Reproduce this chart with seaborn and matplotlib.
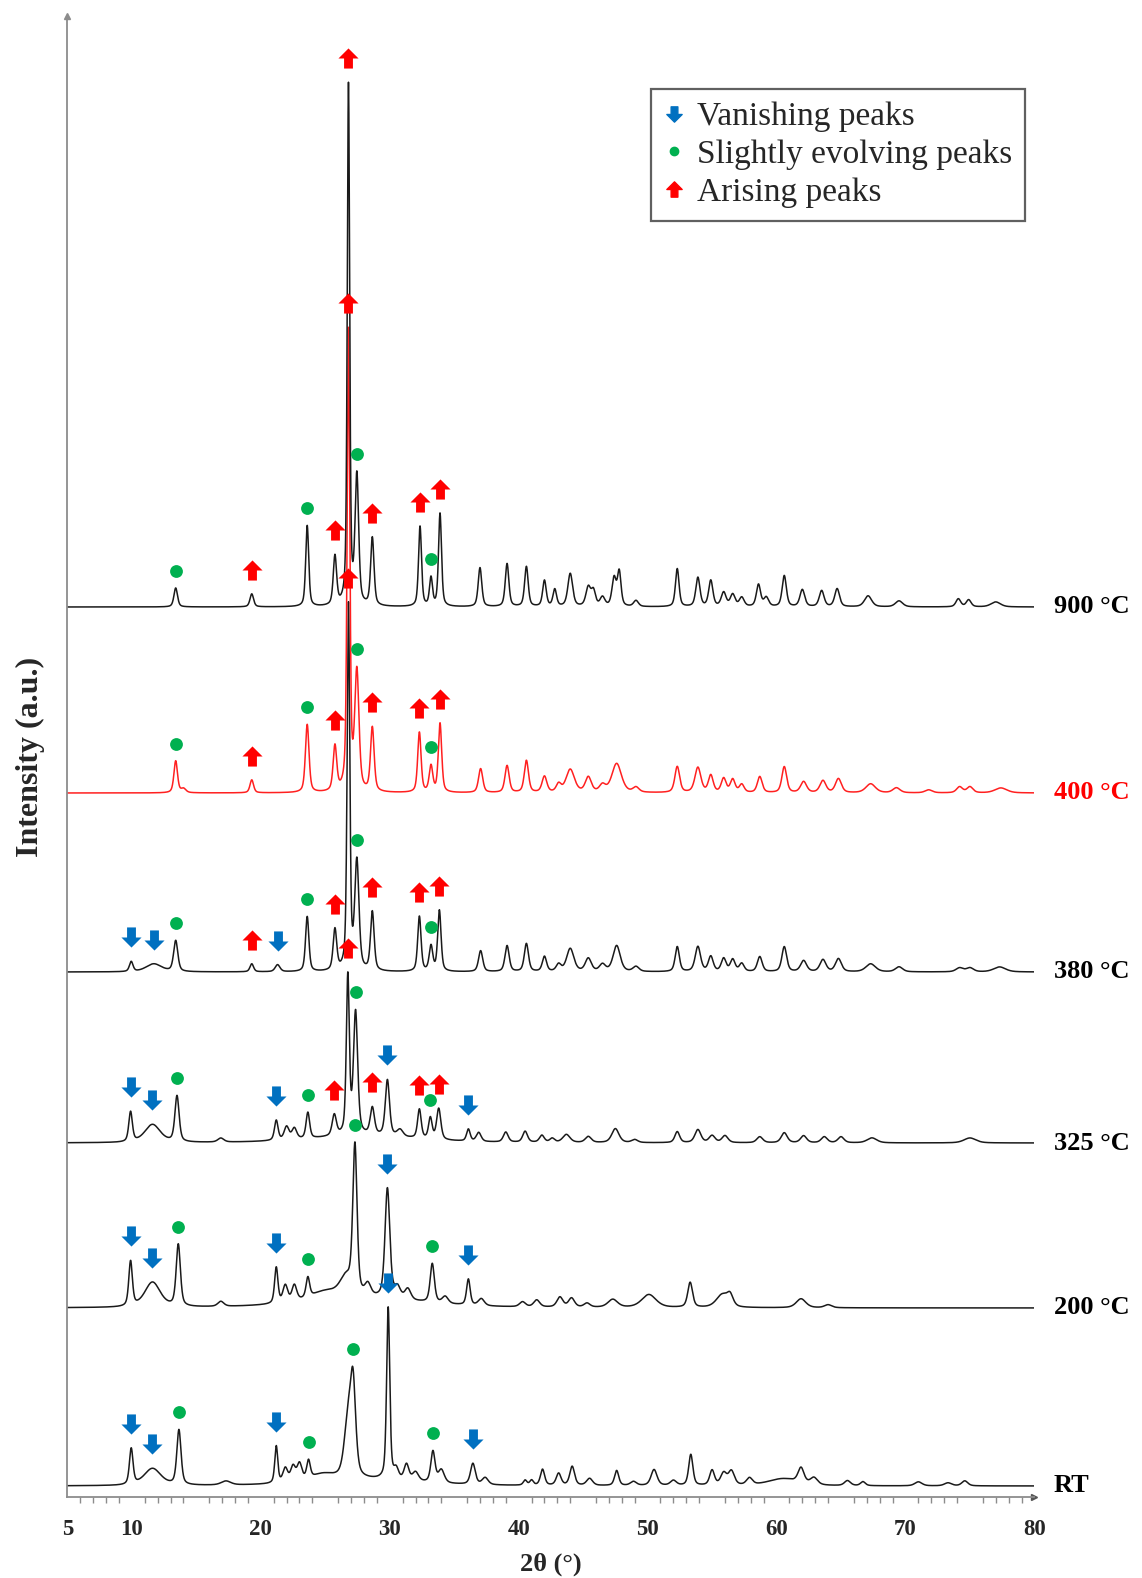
import numpy as np
import pandas as pd
import matplotlib
matplotlib.use("Agg")
import matplotlib.pyplot as plt
from matplotlib.path import Path
from matplotlib.lines import Line2D
import seaborn as sns

# ---- peak lists (2theta, height above baseline, FWHM) ----
samples = ["RT", "200 °C", "325 °C", "380 °C", "400 °C", "900 °C"]
baselines = [11, 189, 354, 525, 704, 890]

rt_pos = [9.95, 11.6, 13.65, 17.3, 21.2, 21.9, 22.5, 23.0, 23.7, 24.8, 26.75, 27.15, 28.0, 29.88,
          30.5, 31.3, 32.0, 33.35, 34.0, 36.45, 37.4, 40.5, 41.0, 41.85, 43.1, 44.15, 45.5, 47.6,
          48.9, 50.5, 52.0, 53.35, 55.0, 55.9, 56.5, 57.9, 60.5, 61.9, 62.9, 65.5, 66.7, 71.0,
          73.3, 74.6]
rt_hgt = [36, 17, 55, 4, 37, 14, 15, 17, 18, 7, 55, 90, 6, 172,
          10, 16, 9, 31, 13, 21, 7, 5, 5, 16, 12, 19, 7, 15,
          4, 16, 5, 31, 15, 12, 14, 7, 7, 15, 7, 5, 4, 4,
          3, 5]
rt_fwhm = [0.3, 1.4, 0.35, 0.8, 0.25, 0.4, 0.4, 0.4, 0.3, 2.0, 0.6, 0.45, 9.0, 0.26,
           0.4, 0.4, 0.5, 0.35, 0.5, 0.4, 0.5, 0.3, 0.3, 0.35, 0.4, 0.4, 0.5, 0.35,
           0.5, 0.5, 0.5, 0.35, 0.4, 0.5, 0.5, 0.5, 2.5, 0.5, 0.6, 0.5, 0.4, 0.6,
           0.6, 0.5]

t200_pos = [9.9, 11.6, 13.6, 16.9, 21.2, 21.9, 22.6, 23.65, 25.0, 26.6, 27.3, 28.3, 28.0, 29.82,
            30.6, 31.4, 33.3, 34.3, 36.1, 37.1, 40.3, 41.4, 43.2, 44.1, 45.3, 47.3, 50.1,
            53.3, 55.8, 56.4, 61.9, 64.0]
t200_hgt = [45, 25, 62, 5, 36, 17, 16, 20, 9, 18, 148, 12, 9, 110,
            11, 11, 39, 7, 26, 7, 5, 7, 10, 9, 4, 8, 13,
            25, 13, 10, 9, 3]
t200_fwhm = [0.3, 1.3, 0.35, 0.5, 0.28, 0.4, 0.4, 0.3, 2.5, 1.0, 0.35, 0.5, 10.0, 0.4,
             0.5, 0.5, 0.35, 0.5, 0.3, 0.5, 0.5, 0.5, 0.5, 0.5, 0.5, 0.8, 1.2,
             0.4, 1.0, 0.5, 0.8, 0.6]

t325_pos = [9.9, 11.6, 13.5, 16.9, 21.2, 22.0, 22.6, 23.65, 25.7, 26.75, 27.35, 28.0, 28.65,
            29.82, 30.8, 32.3, 33.15, 33.8, 36.1, 36.9, 39.0, 40.5, 41.8, 42.6, 43.7, 45.4,
            47.5, 49.0, 52.3, 53.9, 55.0, 56.0, 58.7, 60.6, 62.1, 63.7, 65.0, 67.4, 75.0]
t325_hgt = [30, 18, 46, 4, 20, 13, 11, 26, 21, 158, 122, 7, 27,
            56, 7, 29, 21, 31, 12, 9, 10, 11, 7, 4, 8, 6,
            14, 3, 11, 13, 7, 7, 6, 10, 7, 6, 6, 5, 5]
t325_fwhm = [0.3, 1.3, 0.35, 0.5, 0.3, 0.4, 0.4, 0.3, 0.35, 0.25, 0.35, 9.0, 0.35,
             0.35, 0.5, 0.3, 0.3, 0.35, 0.3, 0.4, 0.4, 0.4, 0.4, 0.4, 0.6, 0.5,
             0.6, 0.5, 0.4, 0.5, 0.5, 0.5, 0.5, 0.5, 0.5, 0.5, 0.5, 0.8, 1.0]

t380_pos = [9.95, 11.7, 13.4, 19.3, 21.3, 23.6, 25.75, 26.8, 27.45, 28.65, 32.3, 33.2, 33.85,
            37.05, 39.1, 40.6, 42.0, 43.1, 44.0, 45.4, 46.5, 47.6, 49.1, 52.3, 53.9, 54.9,
            55.9, 56.6, 57.3, 58.7, 60.6, 62.1, 63.6, 64.8, 67.3, 69.5, 74.2, 75.0, 77.3]
t380_hgt = [10, 8, 31, 8, 7, 55, 41, 365, 108, 59, 55, 25, 61,
            21, 26, 28, 15, 7, 23, 13, 7, 26, 5, 25, 25, 15,
            13, 12, 8, 15, 25, 11, 12, 13, 8, 5, 4, 4, 5]
t380_fwhm = [0.3, 1.3, 0.35, 0.3, 0.4, 0.28, 0.3, 0.22, 0.35, 0.3, 0.28, 0.3, 0.28,
             0.35, 0.35, 0.35, 0.35, 0.4, 0.6, 0.5, 0.5, 0.6, 0.5, 0.35, 0.45, 0.4,
             0.4, 0.4, 0.4, 0.4, 0.4, 0.5, 0.5, 0.5, 0.8, 0.6, 0.6, 0.6, 1.0]

t400_pos = [13.4, 14.0, 19.3, 23.6, 25.75, 26.8, 27.45, 28.65, 32.3, 33.2, 33.9, 37.05, 39.1,
            40.6, 42.0, 43.1, 44.0, 45.4, 46.5, 47.6, 49.1, 52.3, 53.9, 54.9, 55.9, 56.6,
            57.3, 58.7, 60.6, 62.1, 63.6, 64.8, 67.3, 69.3, 71.8, 74.2, 75.0, 77.4]
t400_hgt = [32, 4, 13, 68, 45, 460, 118, 64, 60, 26, 69, 24, 27,
            32, 16, 8, 23, 15, 7, 29, 5, 26, 25, 17, 14, 13,
            8, 16, 26, 11, 12, 14, 9, 5, 3, 6, 6, 5]
t400_fwhm = [0.3, 0.4, 0.3, 0.3, 0.3, 0.22, 0.35, 0.3, 0.28, 0.3, 0.28, 0.35, 0.35,
             0.35, 0.4, 0.4, 0.7, 0.5, 0.5, 0.8, 0.5, 0.4, 0.5, 0.4, 0.4, 0.4,
             0.4, 0.4, 0.4, 0.5, 0.5, 0.5, 0.8, 0.6, 0.6, 0.5, 0.5, 1.0]

t900_pos = [13.4, 19.3, 23.6, 25.75, 26.8, 27.45, 28.65, 32.35, 33.2, 33.9, 37.0, 39.1, 40.6,
            42.0, 42.8, 44.0, 45.4, 45.8, 46.5, 47.4, 47.8, 49.1, 52.3, 53.9, 54.9, 55.9,
            56.6, 57.3, 58.6, 59.2, 60.6, 62.0, 63.5, 64.7, 67.1, 69.5, 74.1, 74.9, 77.0]
t900_hgt = [19, 13, 81, 49, 520, 128, 68, 80, 28, 93, 39, 43, 40,
            26, 17, 33, 19, 15, 9, 28, 34, 6, 38, 29, 26, 14,
            12, 9, 22, 9, 31, 17, 16, 18, 11, 6, 8, 7, 5]
t900_fwhm = [0.3, 0.3, 0.25, 0.28, 0.2, 0.3, 0.28, 0.25, 0.25, 0.25, 0.3, 0.3, 0.3,
             0.3, 0.3, 0.4, 0.4, 0.35, 0.4, 0.35, 0.3, 0.4, 0.3, 0.35, 0.35, 0.4,
             0.4, 0.4, 0.35, 0.4, 0.35, 0.4, 0.4, 0.4, 0.6, 0.6, 0.4, 0.4, 0.8]

# ---- peak markers (2theta) per sample ----
vanishing = {
    "RT": [9.95, 11.6, 21.2, 29.88, 36.45],
    "200 °C": [9.9, 11.6, 21.2, 29.82, 36.1],
    "325 °C": [9.9, 11.6, 21.2, 29.82, 36.1],
    "380 °C": [9.95, 11.7, 21.3],
}
evolving = {
    "RT": [13.65, 23.7, 27.15, 33.35],
    "200 °C": [13.6, 23.65, 27.3, 33.3],
    "325 °C": [13.5, 23.65, 27.35, 33.15],
    "380 °C": [13.4, 23.6, 27.45, 33.2],
    "400 °C": [13.4, 23.6, 27.45, 33.2],
    "900 °C": [13.4, 23.6, 27.45, 33.2],
}
arising = {
    "325 °C": [25.7, 26.75, 28.65, 32.3, 33.8],
    "380 °C": [19.3, 25.75, 26.8, 28.65, 32.3, 33.85],
    "400 °C": [19.3, 25.75, 26.8, 28.65, 32.3, 33.9],
    "900 °C": [19.3, 25.75, 26.8, 28.65, 32.35, 33.9],
}

peak_sets = {
    "RT": (rt_pos, rt_hgt, rt_fwhm),
    "200 °C": (t200_pos, t200_hgt, t200_fwhm),
    "325 °C": (t325_pos, t325_hgt, t325_fwhm),
    "380 °C": (t380_pos, t380_hgt, t380_fwhm),
    "400 °C": (t400_pos, t400_hgt, t400_fwhm),
    "900 °C": (t900_pos, t900_hgt, t900_fwhm),
}

BLUE, GREEN, RED = "#0070c0", "#00b050", "#ff0000"
line_colors = {s: "#1a1a1a" for s in samples}
line_colors["400 °C"] = "#ff2020"


def pattern(grid, pos, hgt, fwhm):
    """Pseudo-Voigt sum of the listed reflections."""
    y = np.zeros_like(grid)
    for p, h, w in zip(pos, hgt, fwhm):
        d = (grid - p) / (w * 1.1)
        y += h * (0.5 * np.exp(-4 * np.log(2) * d ** 2) + 0.5 / (1 + 4 * d ** 2))
    return y


grid = np.arange(5.0, 80.0001, 0.01)
frames = []
for name, base in zip(samples, baselines):
    pos, hgt, fwhm = peak_sets[name]
    frames.append(pd.DataFrame({"two_theta": grid,
                                "intensity": base + pattern(grid, pos, hgt, fwhm),
                                "sample": name}))
df = pd.concat(frames, ignore_index=True)

sns.set_theme(style="white")
plt.rcParams["font.family"] = ["Liberation Serif", "DejaVu Serif"]

fig = plt.figure(figsize=(11.42, 15.78), dpi=100)
ax = fig.add_axes([67.4 / 1142, 1 - 1497 / 1578, (1034.4 - 67.4) / 1142, (1497 - 16) / 1578])

sns.lineplot(data=df, x="two_theta", y="intensity", hue="sample", hue_order=samples,
             palette=line_colors, estimator=None, sort=False, legend=False, lw=1.1, ax=ax)

# block arrow marker
arrow_up = Path([(-0.22, -0.5), (0.22, -0.5), (0.22, 0.0), (0.5, 0.0), (0.0, 0.5),
                 (-0.5, 0.0), (-0.22, 0.0), (-0.22, -0.5)],
                [Path.MOVETO] + [Path.LINETO] * 6 + [Path.CLOSEPOLY])
arrow_down = Path(arrow_up.vertices * np.array([1, -1]), arrow_up.codes)


def apex(name, x0):
    sub = df[(df["sample"] == name) & (df["two_theta"].sub(x0).abs() < 0.25)]
    return sub["intensity"].max()


for marks, mk, col, size, off in [(vanishing, arrow_down, BLUE, 210, 24),
                                  (evolving, "o", GREEN, 85, 17),
                                  (arising, arrow_up, RED, 210, 24)]:
    for name, xs in marks.items():
        ys = [apex(name, x) + off for x in xs]
        ax.scatter(xs, ys, marker=mk, s=size, color=col, linewidths=0, zorder=5)

ax.set_xlim(5, 80)
ax.set_ylim(0, 1481)

for name, base in zip(samples, baselines):
    ax.text(81.5, base, name, ha="left", va="center", fontsize=19, fontweight="bold",
            color=RED if name == "400 °C" else "black", clip_on=False)

# axes styling
for side in ["top", "right"]:
    ax.spines[side].set_visible(False)
for side in ["left", "bottom"]:
    ax.spines[side].set_color("#8c8c8c")
    ax.spines[side].set_linewidth(1.3)
ax.plot(1, 0, ">", color="#555555", ms=5, transform=ax.transAxes, clip_on=False)
ax.plot(0, 1, "^", color="#8c8c8c", ms=5, transform=ax.transAxes, clip_on=False)

major = list(range(5, 81, 5))
ax.set_xticks(major)
ax.set_xticklabels([str(t) if (t == 5 or t % 10 == 0) else "" for t in major])
ax.set_xticks(np.arange(5, 81, 1), minor=True)
ax.tick_params(axis="x", which="major", direction="out", length=7, width=1.2,
               color="#8c8c8c", labelsize=16.5, pad=9)
ax.tick_params(axis="x", which="minor", direction="out", length=4, width=1.0,
               color="#8c8c8c", bottom=True)
for lbl in ax.get_xticklabels():
    lbl.set_fontweight("bold")
ax.set_yticks([])

ax.set_xlabel("2θ (°)", fontsize=19, fontweight="bold", labelpad=9)
ax.set_ylabel("Intensity (a.u.)", fontsize=23, fontweight="bold", labelpad=16)

handles = [Line2D([], [], marker=arrow_down, color=BLUE, ls="None", ms=11),
           Line2D([], [], marker="o", color=GREEN, ls="None", ms=6),
           Line2D([], [], marker=arrow_up, color=RED, ls="None", ms=11)]
leg = fig.legend(handles, ["Vanishing peaks", "Slightly evolving peaks", "Arising peaks"],
                 loc="upper right", bbox_to_anchor=(1025 / 1142, 1 - 89 / 1578),
                 bbox_transform=fig.transFigure, fontsize=24, handlelength=0.6,
                 handletextpad=0.4, borderpad=0.38, labelspacing=0.22, borderaxespad=0,
                 fancybox=False, framealpha=1, edgecolor="#606060")
leg.get_frame().set_linewidth(1.6)

fig.savefig("out.png", dpi=100)
